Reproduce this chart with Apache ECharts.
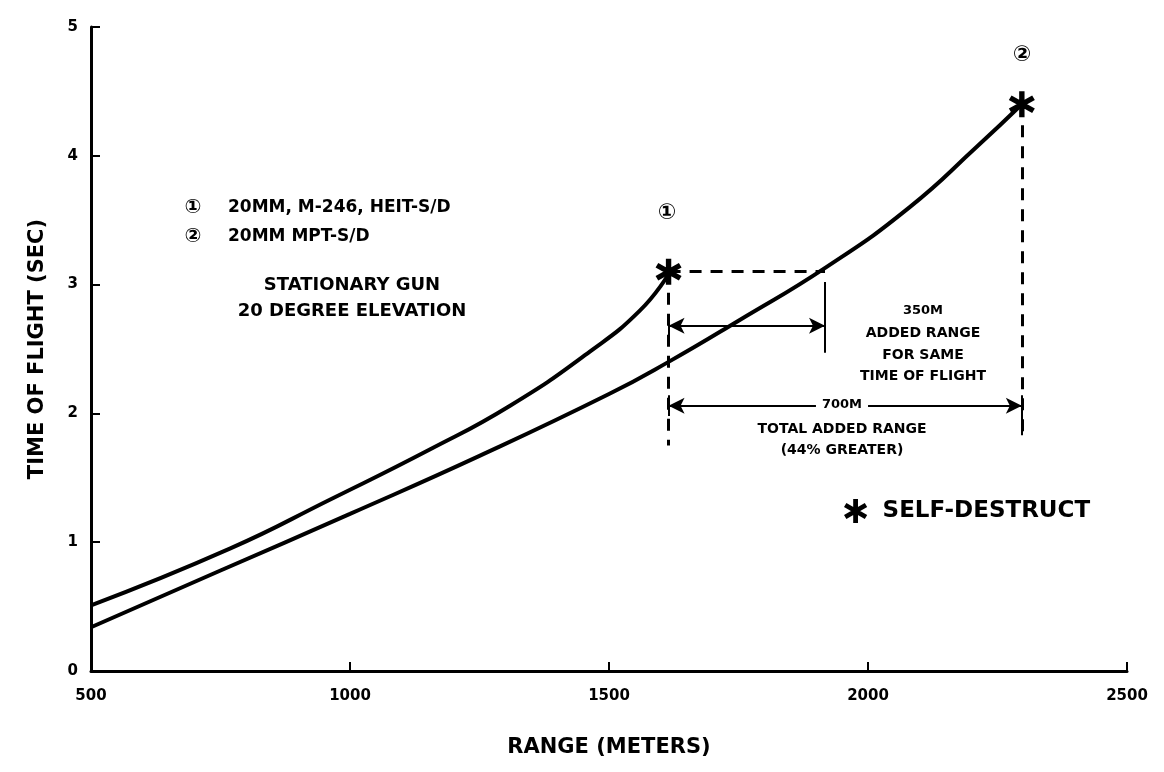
<!DOCTYPE html>
<html>
<head>
<meta charset="utf-8">
<script src="https://cdn.jsdelivr.net/npm/echarts@6/dist/echarts.min.js"></script>
<style>
  html, body { margin: 0; padding: 0; background: #fff; }
  #chart { width: 1164px; height: 772px; }
</style>
</head>
<body>
<div id="chart"></div>
<script>
// range (m) / time of flight (s)
const heitRange = [500, 768, 961, 1154, 1309, 1463, 1560, 1615];
const heitTof   = [0.51, 0.95, 1.33, 1.72, 2.06, 2.48, 2.80, 3.08];
const mptRange  = [500, 750, 1000, 1250, 1500, 1615, 1750, 1921, 2080, 2210, 2297];
const mptTof    = [0.34, 0.78, 1.22, 1.67, 2.15, 2.40, 2.72, 3.14, 3.60, 4.07, 4.40];
// self-destruct points
const sdRange = [1615, 2297];
const sdTof   = [3.10, 4.40];
// annotation values
const sameTofRange = 1917;   // where round 2 reaches the same time of flight
const arrow350Tof = 2.68;
const arrow700Tof = 2.06;
const xTicks = [500, 1000, 1500, 2000, 2500];
const yTicks = [0, 1, 2, 3, 4, 5];

const FONT = "'DejaVu Sans', 'Noto Sans CJK SC', sans-serif";
// six-armed asterisk used for the self-destruct points
const ASTER = 'path://M-2,-10L2,-10L2,10L-2,10Z M7.66,-6.73L9.66,-3.27L-7.66,6.73L-9.66,3.27Z M9.66,3.27L7.66,6.73L-9.66,-3.27L-7.66,-6.73Z';

const zip = (a, b) => a.map((v, i) => [v, b[i]]);

const chart = echarts.init(document.getElementById('chart'));

function txt(t, x, y, size, align, extra) {
  return {
    type: 'text', x: x, y: y, z: 100,
    style: Object.assign({
      text: t, fill: '#000', align: align || 'center', verticalAlign: 'middle',
      font: 'bold ' + size + 'px ' + FONT
    }, extra || {})
  };
}

const solid = { color: '#000', width: 2, type: 'solid' };

chart.setOption({
  animation: false,
  backgroundColor: '#fff',
  grid: { left: 91, right: 37, top: 27, bottom: 101 },
  xAxis: {
    type: 'value', min: xTicks[0], max: xTicks[xTicks.length - 1], interval: 500,
    name: 'RANGE (METERS)', nameLocation: 'middle', nameGap: 66,
    nameTextStyle: { fontFamily: FONT, fontWeight: 'bold', fontSize: 21, color: '#000' },
    axisLine: { lineStyle: { color: '#000', width: 3 } },
    axisTick: { inside: true, length: 9, lineStyle: { color: '#000', width: 2 } },
    axisLabel: { color: '#000', fontFamily: FONT, fontWeight: 'bold', fontSize: 15, margin: 18,
      formatter: v => String(v) },
    splitLine: { show: false }
  },
  yAxis: {
    type: 'value', min: yTicks[0], max: yTicks[yTicks.length - 1], interval: 1,
    name: 'TIME OF FLIGHT (SEC)', nameLocation: 'middle', nameGap: 43,
    nameTextStyle: { fontFamily: FONT, fontWeight: 'bold', fontSize: 21, color: '#000' },
    axisLine: { show: true, lineStyle: { color: '#000', width: 3 } },
    axisTick: { show: true, inside: true, length: 9, lineStyle: { color: '#000', width: 2 } },
    axisLabel: { color: '#000', fontFamily: FONT, fontWeight: 'bold', fontSize: 15, margin: 13 },
    splitLine: { show: false }
  },
  legend: {
    data: [{ name: 'SELF-DESTRUCT', icon: ASTER, itemStyle: { color: '#000', opacity: 1 } }],
    left: 839, top: 494, itemWidth: 24, itemHeight: 24,
    textStyle: { fontFamily: FONT, fontWeight: 'bold', fontSize: 23, color: '#000', padding: [0, 0, 0, 10] },
    selectedMode: false
  },
  series: [
    {
      name: 'HEIT', type: 'line', data: zip(heitRange, heitTof), smooth: 0.5,
      showSymbol: false, lineStyle: { color: '#000', width: 4 }, z: 3
    },
    {
      name: 'MPT', type: 'line', data: zip(mptRange, mptTof), smooth: 0.5,
      showSymbol: false, lineStyle: { color: '#000', width: 4 }, z: 3
    },
    {
      name: 'annotations', type: 'line', data: [], silent: true,
      markLine: {
        silent: true, animation: false, label: { show: false }, symbol: 'none',
        lineStyle: { color: '#000', width: 3, type: [12, 9] },
        data: [
          [{ coord: [sdRange[0], sdTof[0]] }, { coord: [sameTofRange, sdTof[0]] }],
          [{ coord: [sdRange[0], sdTof[0]] }, { coord: [sdRange[0], 1.75] }],
          [{ coord: [sdRange[1], sdTof[1]] }, { coord: [sdRange[1], 1.83] }],
          [{ coord: [sameTofRange, 3.02], lineStyle: solid }, { coord: [sameTofRange, 2.47] }],
          [{ coord: [sdRange[0], arrow350Tof + 0.08], lineStyle: solid }, { coord: [sdRange[0], arrow350Tof - 0.08] }],
          [{ coord: [sdRange[0], arrow700Tof + 0.08], lineStyle: solid }, { coord: [sdRange[0], arrow700Tof - 0.08] }],
          [{ coord: [sdRange[1], arrow700Tof + 0.08], lineStyle: solid }, { coord: [sdRange[1], 1.83] }]
        ]
      }
    },
    {
      name: 'arrows', type: 'line', data: [], silent: true,
      markLine: {
        silent: true, animation: false, label: { show: false },
        symbol: ['arrow', 'arrow'], symbolSize: [12, 16],
        lineStyle: { color: '#000', width: 2, type: 'solid' },
        data: [
          [{ coord: [sdRange[0], arrow350Tof] }, { coord: [sameTofRange, arrow350Tof] }],
          [{ coord: [sdRange[0], arrow700Tof] }, { coord: [sdRange[1], arrow700Tof] }]
        ]
      }
    },
    {
      name: 'SELF-DESTRUCT', type: 'scatter', data: zip(sdRange, sdTof),
      symbol: ASTER, symbolSize: 26, itemStyle: { color: '#000', opacity: 1 }, z: 5
    }
  ],
  graphic: [
    txt('①', 193, 208, 20),
    txt('20MM, M-246, HEIT-S/D', 228, 208, 17, 'left'),
    txt('②', 193, 237, 20),
    txt('20MM MPT-S/D', 228, 237, 17, 'left'),
    txt('STATIONARY GUN', 352, 285, 18),
    txt('20 DEGREE ELEVATION', 352, 311, 18),
    txt('①', 667, 213, 22),
    txt('②', 1022, 55, 22),
    txt('350M', 923, 311, 13),
    txt('ADDED RANGE', 923, 333, 14),
    txt('FOR SAME', 923, 355, 14),
    txt('TIME OF FLIGHT', 923, 376, 14),
    txt('700M', 842, 405, 13, 'center', { backgroundColor: '#fff', padding: [2, 6] }),
    txt('TOTAL ADDED RANGE', 842, 429, 14),
    txt('(44% GREATER)', 842, 450, 14)
  ]
});
</script>
</body>
</html>
